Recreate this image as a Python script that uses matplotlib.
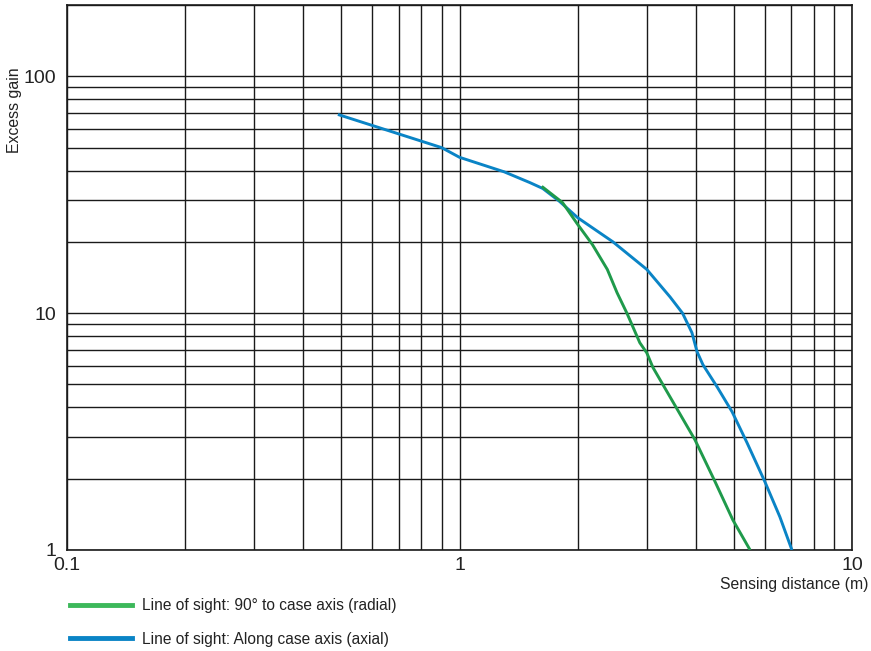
import matplotlib
matplotlib.use("Agg")
import matplotlib.pyplot as plt
from matplotlib.lines import Line2D
from matplotlib.ticker import LogLocator, FixedLocator, NullFormatter

plt.rcParams['font.family'] = ['Liberation Sans', 'DejaVu Sans']

# Data
radial_x = [1.62, 1.83, 2.0, 2.18, 2.38, 2.52, 2.67, 2.88, 3.0, 3.11, 3.98, 4.48, 4.97, 5.5]
radial_y = [34.3, 29.3, 23.7, 19.5, 15.3, 12.2, 10.0, 7.5, 6.8, 5.9, 2.92, 1.94, 1.34, 1.0]

axial_x = [0.49, 0.9, 1.0, 1.3, 1.51, 1.63, 1.8, 2.0, 2.46, 3.0, 3.44, 3.7, 3.91, 4.03, 4.17,
           4.53, 4.95, 5.40, 6.0, 6.55, 7.03]
axial_y = [69, 50, 45.5, 39.5, 35.6, 33.6, 29.6, 25.3, 20, 15.3, 11.7, 10, 8.27, 6.87, 6.06,
           4.89, 3.83, 2.84, 1.94, 1.38, 1.0]

x_ticks = [0.1, 1, 10]
x_ticklabels = ["0.1", "1", "10"]
y_ticks = [1, 10, 100]
y_ticklabels = ["1", "10", "100"]

radial_label = "Line of sight: 90° to case axis (radial)"
axial_label = "Line of sight: Along case axis (axial)"

green = "#1f9a4b"
blue = "#0a84c6"

fig = plt.figure(figsize=(8.71, 6.51), dpi=100)
ax = fig.add_axes([67/871, 1-550/651, (852-67)/871, (550-5)/651])
ax.set_xscale('log')
ax.set_yscale('log')
ax.set_xlim(0.1, 10)
ax.set_ylim(1, 200)

ax.plot(axial_x, axial_y, color=blue, lw=2.1, solid_capstyle='butt', zorder=3)
ax.plot(radial_x, radial_y, color=green, lw=2.1, solid_capstyle='butt', zorder=4)

ax.xaxis.set_major_locator(FixedLocator(x_ticks))
ax.yaxis.set_major_locator(FixedLocator(y_ticks))
ax.xaxis.set_minor_locator(LogLocator(base=10, subs=range(2, 10), numticks=20))
ax.yaxis.set_minor_locator(LogLocator(base=10, subs=range(2, 10), numticks=20))
ax.xaxis.set_minor_formatter(NullFormatter())
ax.yaxis.set_minor_formatter(NullFormatter())
ax.set_xticklabels(x_ticklabels)
ax.set_yticklabels(y_ticklabels)
ax.tick_params(which='both', length=0, labelsize=14, colors='#222222')
ax.tick_params(axis='x', pad=5)
ax.tick_params(axis='y', pad=8)
ax.grid(True, which='both', color='#1a1a1a', lw=1.0)
ax.set_axisbelow(True)
for s in ax.spines.values():
    s.set_color('#1a1a1a')
    s.set_linewidth(1.2)

fig.text(15/871, 1-110/651, "Excess gain", rotation=90, ha='center', va='center',
         fontsize=11.4, color='#222222')
fig.text(868/871, 1-584/651, "Sensing distance (m)", ha='right', va='center',
         fontsize=11.3, color='#222222')

handles = [Line2D([], [], color='#3cb85a', lw=3.5), Line2D([], [], color=blue, lw=3.5)]
leg = fig.legend(handles, [radial_label, axial_label], loc='upper left',
                 bbox_to_anchor=(56/871, 1-584/651), frameon=False, fontsize=11.2,
                 handlelength=4.0, handletextpad=0.6, labelspacing=1.2,
                 labelcolor='#222222')

fig.savefig("out.png", dpi=100)
